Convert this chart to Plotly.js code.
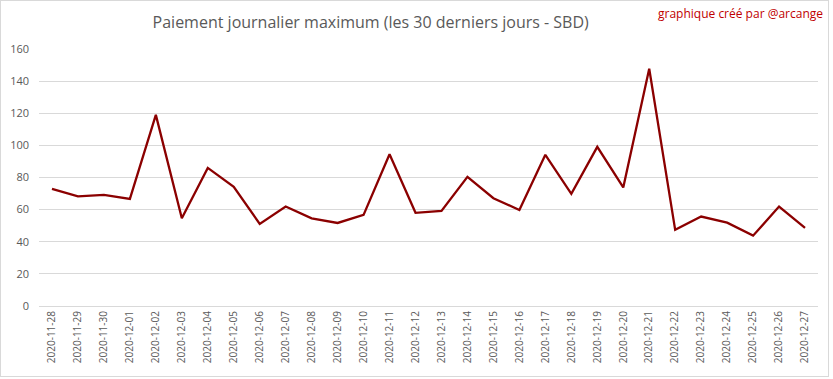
<!DOCTYPE html>
<html>
<head>
<meta charset="utf-8">
<script src="https://cdn.plot.ly/plotly-3.0.1.min.js"></script>
<style>
html,body{margin:0;padding:0;background:#fff;}
#wrap{position:absolute;left:0;top:0;width:833px;height:379px;}
#frame{position:absolute;left:0;top:0;width:827px;height:375px;border:1px solid #d9d9d9;pointer-events:none;}
</style>
</head>
<body>
<div id="wrap"><div id="chart" style="width:833px;height:379px;"></div><div id="frame"></div></div>
<script>
const dates = ["2020-11-28","2020-11-29","2020-11-30","2020-12-01","2020-12-02","2020-12-03","2020-12-04","2020-12-05","2020-12-06","2020-12-07","2020-12-08","2020-12-09","2020-12-10","2020-12-11","2020-12-12","2020-12-13","2020-12-14","2020-12-15","2020-12-16","2020-12-17","2020-12-18","2020-12-19","2020-12-20","2020-12-21","2020-12-22","2020-12-23","2020-12-24","2020-12-25","2020-12-26","2020-12-27"];
const maxPayout = [72.9,68.2,69.2,66.7,119.0,54.6,86.0,74.2,51.1,61.9,54.6,51.7,56.7,94.5,58.0,59.2,80.4,67.1,59.8,94.1,69.8,99.1,73.8,147.7,47.4,55.7,51.9,43.8,61.9,48.6];
const yTicks = [0,20,40,60,80,100,120,140,160];

const trace = {
  x: dates, y: maxPayout, type: 'scatter', mode: 'lines',
  line: {color: '#8B0000', width: 2.3},
  hoverinfo: 'x+y'
};
const layout = {
  width: 833, height: 379,
  margin: {l: 39, r: 15, t: 49, b: 73},
  paper_bgcolor: 'rgba(0,0,0,0)', plot_bgcolor: '#fff',
  font: {family: 'Open Sans, sans-serif', color: '#595959'},
  title: {text: 'Paiement journalier maximum (les 30 derniers jours - SBD)', x: 0.445, xanchor: 'center', y: 0.94, yanchor: 'middle', font: {size: 16, color: '#595959', family: 'Open Sans, sans-serif'}},
  showlegend: false,
  xaxis: {type: 'category', range: [-0.5, 29.5], tickangle: -90, tickfont: {size: 10, color: '#595959'}, showgrid: false, showline: true, linecolor: '#d9d9d9', linewidth: 1, ticks: '', zeroline: false, fixedrange: true},
  yaxis: {range: [0, 160], tickvals: yTicks, ticktext: yTicks.map(String), tickfont: {size: 11, color: '#595959'}, showgrid: true, gridcolor: '#d9d9d9', gridwidth: 1, zeroline: false, showline: false, ticks: '', ticklabelstandoff: 9, fixedrange: true},
  annotations: [{text: 'graphique créé par @arcange', xref: 'paper', yref: 'paper', x: 1.0, y: 1.0, xanchor: 'right', yanchor: 'bottom', xshift: 7, yshift: 25, showarrow: false, font: {size: 12, color: '#C00000', family: 'Open Sans, sans-serif'}}]
};
Plotly.newPlot('chart', [trace], layout, {displayModeBar: false, staticPlot: true});
</script>
</body>
</html>
